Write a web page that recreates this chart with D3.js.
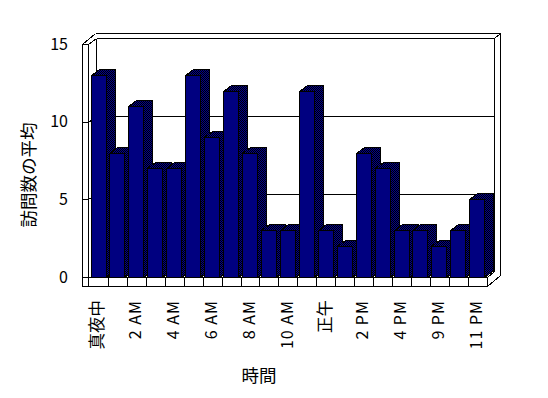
<!DOCTYPE html>
<head>
  <meta charset="utf-8">
  <script src="https://d3js.org/d3.v7.min.js"></script>
  <style>
    body { margin:0; background:#fff; }
    svg { display:block; }
    .frame line, .frame path, .frame rect { stroke:#000; stroke-width:1; fill:none; shape-rendering:crispEdges; }
    .bar-front { fill:#000080; stroke:#000; stroke-width:1; shape-rendering:crispEdges; }
    .bar-side { fill:url(#dither); stroke:#000; stroke-width:1; shape-rendering:crispEdges; }
    pattern rect { shape-rendering:crispEdges; }
    text { font-family:"Liberation Sans Narrow", "Noto Sans CJK JP", sans-serif; fill:#000; }
    .y-tick { font-size:16px; }
    .x-tick { font-size:16px; letter-spacing:1px; }
    .x-tick.cjk { font-size:16.5px; letter-spacing:0; }
    .axis-title { font-size:17.5px; }
  </style>
</head>

<body>
  <script>
    var hours = ["真夜中", "1 AM", "2 AM", "3 AM", "4 AM", "5 AM", "6 AM", "7 AM", "8 AM", "9 AM", "10 AM", "11 AM",
                 "正午", "1 PM", "2 PM", "3 PM", "4 PM", "5 PM", "9 PM", "10 PM", "11 PM"];
    var visits = [13, 8, 11, 7, 7, 13, 9, 12, 8, 3, 3, 12, 3, 2, 8, 7, 3, 3, 2, 3, 5];
    var yTicks = [0, 5, 10, 15];
    var yTitle = "訪問数の平均",
        xTitle = "時間";

    var width = 548, height = 398;

    // front plane of the plot, depth offsets for walls and bars
    var wallOuter = 81.7, wallInner = 88, floorRight = 486.7, floorBottom = 286;
    var back = {dx: 7.5, dy: -5.7};      // front surface of back wall
    var outer = {dx: 13.3, dy: -11};     // back surface of back wall
    var depth = {dx: 8.5, dy: -6.5};     // bar depth

    var svg = d3.select("body").append("svg")
        .attr("width", width)
        .attr("height", height);

    var defs = svg.append("defs");
    var pat = defs.append("pattern")
        .attr("id", "dither")
        .attr("width", 2).attr("height", 2)
        .attr("patternUnits", "userSpaceOnUse");
    pat.append("rect").attr("width", 2).attr("height", 2).attr("fill", "#000090");
    pat.append("rect").attr("width", 1).attr("height", 1).attr("fill", "#000");
    pat.append("rect").attr("x", 1).attr("y", 1).attr("width", 1).attr("height", 1).attr("fill", "#000");

    var x = d3.scaleBand()
      .domain(hours)
      .range([89, floorRight]);

    var y = d3.scaleLinear()
      .domain([0, 15])
      .range([277, 44]);

    var px = v => Math.round(v) + 0.5;

    var y0 = y(0), yTop = y(15);
    var frame = svg.append("g").attr("class", "frame");

    function seg(x1, y1, x2, y2) {
      frame.append("line")
        .attr("x1", px(x1)).attr("y1", px(y1))
        .attr("x2", px(x2)).attr("y2", px(y2));
    }

    var bl = wallInner + back.dx, br = floorRight + back.dx;

    // back wall
    seg(bl, yTop + back.dy, br, yTop + back.dy);
    seg(wallOuter + outer.dx, yTop + outer.dy, floorRight + outer.dx, yTop + outer.dy);
    seg(wallOuter, yTop, wallOuter + outer.dx, yTop + outer.dy);
    seg(wallInner, yTop, bl, yTop + back.dy);
    seg(br, yTop + back.dy, floorRight + outer.dx, yTop + outer.dy);
    seg(bl, yTop + back.dy, bl, y0 + back.dy);
    seg(br, yTop + back.dy, br, y0 + back.dy);
    seg(floorRight + outer.dx, yTop + outer.dy, floorRight + outer.dx, floorBottom + outer.dy);
    seg(bl, y0 + back.dy, br, y0 + back.dy);
    seg(br, y0 + back.dy, floorRight, y0);
    seg(floorRight + outer.dx, floorBottom + outer.dy, floorRight, floorBottom);

    // gridlines
    yTicks.filter(d => d > 0 && d < 15).forEach(function(d) {
      seg(bl, y(d) + back.dy, br, y(d) + back.dy);
      seg(wallInner, y(d), bl, y(d) + back.dy);
    });

    // bars
    var bars = svg.append("g").selectAll("g")
      .data(visits.map((v, i) => ({hour: hours[i], value: v})))
      .enter().append("g");

    var bw = 15, off = 1.5;
    bars.append("path")
      .attr("class", "bar-side")
      .attr("d", function(d) {
        var xl = Math.round(x(d.hour) + off) + 0.5, xr = xl + bw,
            yt = Math.round(y(d.value)) + 0.5, yb = Math.round(y0) + 0.5;
        return "M" + [xl, yt] + "L" + [xl + depth.dx, yt + depth.dy] +
          "L" + [xr + depth.dx, yt + depth.dy] + "L" + [xr + depth.dx, yb + depth.dy] +
          "L" + [xr, yb] + "L" + [xr, yt] + "Z";
      });
    bars.append("rect")
      .attr("class", "bar-front")
      .attr("x", d => Math.round(x(d.hour) + off) + 0.5)
      .attr("y", d => Math.round(y(d.value)) + 0.5)
      .attr("width", bw)
      .attr("height", d => Math.round(y0) - Math.round(y(d.value)));

    // floor front and left wall
    seg(wallOuter, yTop, wallOuter, floorBottom);
    seg(wallInner, yTop, wallInner, floorBottom);
    seg(wallOuter, yTop, wallInner, yTop);
    seg(wallInner, y0, floorRight, y0);
    seg(wallOuter, floorBottom, floorRight, floorBottom);
    seg(floorRight, y0, floorRight, floorBottom);
    hours.slice(1).forEach(h => seg(x(h), y0, x(h), floorBottom));

    // y ticks
    yTicks.forEach(function(d) {
      seg(wallOuter, y(d), wallInner, y(d));
    });
    svg.append("g").selectAll("text")
      .data(yTicks)
      .enter().append("text")
        .attr("class", "y-tick")
        .attr("x", 68)
        .attr("y", d => y(d))
        .attr("dy", "0.36em")
        .attr("text-anchor", "end")
        .text(d => d);

    // x tick labels, every second hour
    svg.append("g").selectAll("text")
      .data(hours.filter((h, i) => i % 2 == 0))
      .enter().append("text")
        .attr("class", d => /[^\x00-\x7F]/.test(d) ? "x-tick cjk" : "x-tick")
        .attr("text-anchor", "end")
        .attr("dy", "0.36em")
        .attr("transform", d => "translate(" + [x(d) + off + bw / 2 - 0.5, 300] + ") rotate(-90)")
        .text(d => d);

    svg.append("text")
      .attr("class", "axis-title")
      .attr("text-anchor", "middle")
      .attr("dy", "0.36em")
      .attr("transform", "translate(29,175) rotate(-90)")
      .text(yTitle);

    svg.append("text")
      .attr("class", "axis-title")
      .attr("text-anchor", "middle")
      .attr("x", 259)
      .attr("y", 376)
      .attr("dy", "0.36em")
      .text(xTitle);
  </script>
</body>
